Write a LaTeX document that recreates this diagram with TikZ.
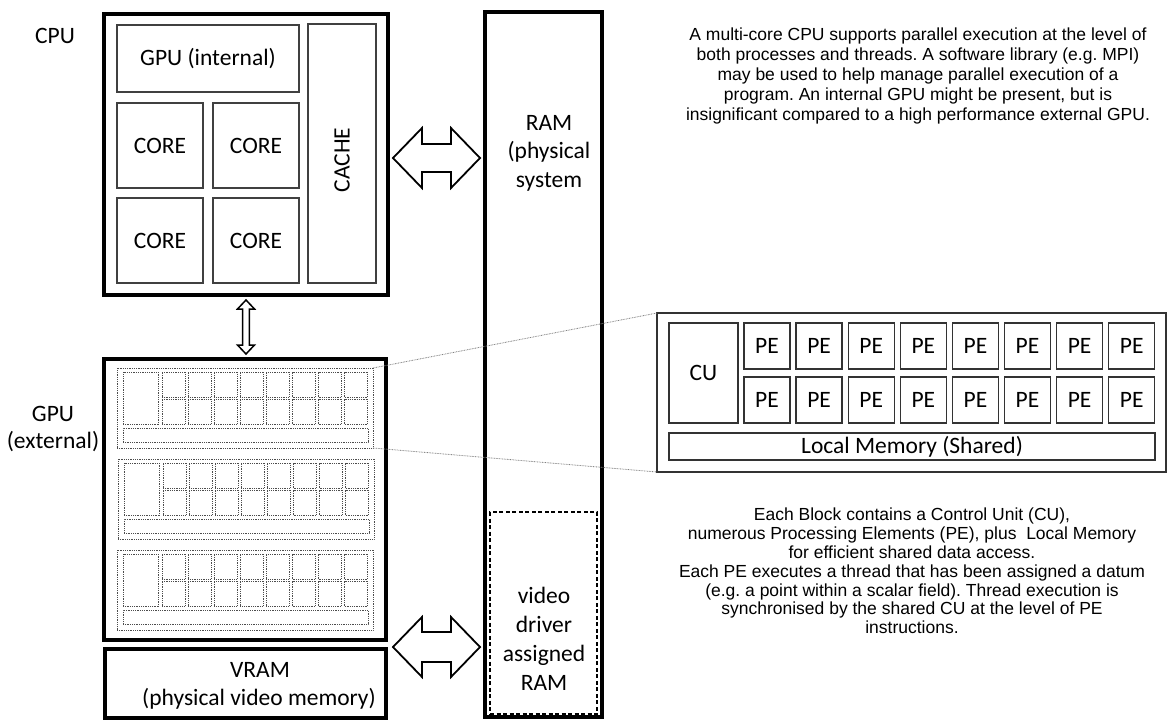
\documentclass[tikz,border=0pt]{standalone}
\usepackage{fontspec}
\setmainfont{Carlito}
\newfontfamily\arialf{Liberation Sans}
\frenchspacing
\newcommand\lblfont{\fontsize{23.5}{28}\selectfont}
\newcommand\mkbox[7]{\node[#1, minimum width={(#5)-(#3)}, minimum height={(#6)-(#4)}] (#2) at ({((#3)+(#5))/2},{-((#4)+(#6))/2}) {#7};}
\tikzset{
  heavybox/.style={draw=black, line width=4.5pt, inner sep=0pt, outer sep=0pt, font=\lblfont},
  inbox/.style={draw=black!75, line width=1.8pt, inner sep=0pt, outer sep=0pt, font=\lblfont},
  pebox/.style={draw=black!80, line width=1.4pt, inner sep=0pt, outer sep=0pt, font=\lblfont},
  dotbox/.style={draw=black!70, line width=0.9pt, dash pattern=on 0.9pt off 0.9pt, inner sep=0pt, outer sep=0pt},
  dashbox/.style={draw=black, line width=1.5pt, dash pattern=on 4pt off 2.5pt, inner sep=0pt, outer sep=0pt},
  plain/.style={inner sep=0pt, font=\lblfont, align=center},
  para/.style={inner sep=0pt, align=center},
  blockarrow/.style={draw=black, line width=1.8pt, fill=white, line join=miter},
  zoomline/.style={draw=black!50, line width=0.8pt, dash pattern=on 0.8pt off 0.8pt}
}
\begin{document}
\begin{tikzpicture}[x=1pt,y=1pt]
\useasboundingbox (0,0) rectangle (1167,-720);
% CPU
\node[plain] (cpulbl) at (55,-36) {CPU};
\mkbox{heavybox}{cpu}{104}{14}{388}{295}{}
\mkbox{inbox}{gpuint}{117}{25}{299}{92}{GPU (internal)}
\mkbox{inbox}{core1}{117}{103}{203}{188}{CORE}
\mkbox{inbox}{core2}{213}{103}{299}{188}{CORE}
\mkbox{inbox}{core3}{117}{198}{203}{283}{CORE}
\mkbox{inbox}{core4}{213}{198}{299}{283}{CORE}
\mkbox{inbox}{cache}{308}{24}{376}{283}{}
\node[plain, rotate=90] (cachelbl) at (342,-160) {CACHE};
% RAM
\mkbox{heavybox}{ram}{485}{12}{602}{717}{}
\node[plain, font=\fontsize{23.5}{28.5}\selectfont] (ramlbl) at (549,-153) {RAM\\(physical\\system};
\mkbox{dashbox}{vdram}{490}{512}{597}{714}{}
\node[plain, font=\fontsize{23.5}{29}\selectfont] (vdlbl) at (544,-639) {video\\driver\\assigned\\RAM};
% GPU external
\node[plain, font=\fontsize{23.5}{27}\selectfont] (gpulbl) at (53,-429) {GPU\\(external)};
\mkbox{heavybox}{gpuext}{104}{359}{386}{640}{}
\mkbox{heavybox}{vram}{105}{649}{386}{718}{}
\node[plain] (vramlbl) at (260,-670) {VRAM};
\node[plain] (vramsub) at (259,-699) {(physical video memory)};
% mini blocks
\foreach \bx/\by/\n in {117/368/1,118/459/2,117/550/3}{
  \mkbox{dotbox}{b\n}{\bx}{\by}{\bx+256}{\by+80}{}
  \mkbox{dotbox}{b\n cu}{\bx+6}{\by+4}{\bx+41}{\by+56}{}
  \mkbox{dotbox}{b\n lm}{\bx+6}{\by+60}{\bx+251}{\by+74}{}
  \foreach \i in {0,...,7}{
    \foreach \j in {0,1}{
      \mkbox{dotbox}{b\n pe\i\j}{\bx+45+26.1*\i}{\by+4+27*\j}{\bx+68+26.1*\i}{\by+29+27*\j}{}
    }
  }
}
% big block
\mkbox{pebox}{big}{657}{313}{1166}{472}{}
\mkbox{pebox}{bigcu}{669}{323}{738}{423}{CU}
\foreach \i in {0,...,7}{
  \foreach \j in {0,1}{
    \mkbox{pebox}{bpe\i\j}{744+52.1*\i}{323+54*\j}{790+52.1*\i}{369+54*\j}{PE}
  }
}
\mkbox{pebox}{biglm}{669}{433}{1155}{460}{Local Memory (Shared)}
% zoom lines
\draw[zoomline] (b1.north east) -- (big.north west);
\draw[zoomline] (b1.south east) -- (big.south west);
% arrows
\draw[blockarrow] (393,-158) -- (422,-128) -- (422,-144) -- (451,-144) -- (451,-128) -- (480,-158) -- (451,-188) -- (451,-172) -- (422,-172) -- (422,-188) -- cycle;
\draw[blockarrow] (393,-647) -- (422,-617) -- (422,-632) -- (451,-632) -- (451,-617) -- (480,-647) -- (451,-677) -- (451,-662) -- (422,-662) -- (422,-677) -- cycle;
\draw[blockarrow, line width=1.5pt] (246,-300) -- (254.5,-309) -- (249.3,-309) -- (249.3,-345) -- (254.5,-345) -- (246,-354) -- (237.5,-345) -- (242.7,-345) -- (242.7,-309) -- (237.5,-309) -- cycle;
% text
\node[para, font=\arialf\fontsize{17.5}{20.2}\selectfont] (desc1) at (918,-76) {A multi-core CPU supports parallel execution at the level of\\both processes and threads. A software library (e.g. MPI)\\may be used to help manage parallel execution of a\\program. An internal GPU might be present, but is\\insignificant compared to a high performance external GPU.};
\node[para, font=\arialf\fontsize{17.5}{18.8}\selectfont] (desc2) at (912,-571) {Each Block contains a Control Unit (CU),\\numerous Processing Elements (PE), plus\ \ Local Memory\\for efficient shared data access.\\Each PE executes a thread that has been assigned a datum\\(e.g. a point within a scalar field). Thread execution is\\synchronised by the shared CU at the level of PE\\instructions.};
\end{tikzpicture}
\end{document}
